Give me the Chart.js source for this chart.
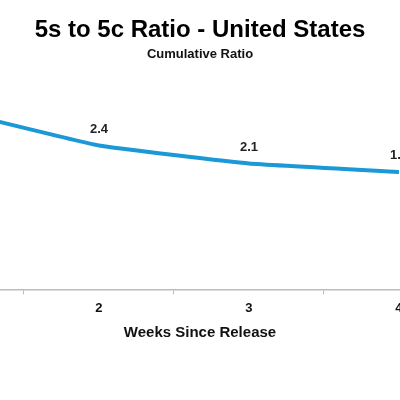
<!DOCTYPE html>
<html>
<head>
<meta charset="utf-8">
<script src="https://cdn.jsdelivr.net/npm/chart.js@4"></script>
<style>
  html, body { margin: 0; padding: 0; background: #fff; }
  #wrap { width: 400px; height: 400px; }
</style>
</head>
<body>
<div id="wrap"><canvas id="chart"></canvas></div>
<script>
// Data
const weeks = [1, 2, 3, 4];
const ratios = [3.0, 2.4, 2.1, 1.96];
const ratioLabels = ["3.0", "2.4", "2.1", "1.9"];

const FONT = "Arial, 'Liberation Sans', sans-serif";

// value labels above points
const pointLabels = {
  id: "pointLabels",
  afterDatasetsDraw(chart) {
    const ctx = chart.ctx;
    const meta = chart.getDatasetMeta(0);
    ctx.save();
    ctx.font = "bold 13px " + FONT;
    ctx.fillStyle = "#222";
    ctx.textAlign = "center";
    ctx.textBaseline = "bottom";
    meta.data.forEach((pt, i) => {
      ctx.fillText(ratioLabels[i], pt.x, pt.y - 10);
    });
    ctx.restore();
  }
};

new Chart(document.getElementById("chart"), {
  type: "line",
  data: {
    datasets: [{
      data: weeks.map((w, i) => ({ x: w, y: ratios[i] })),
      borderColor: "#1b98d8",
      borderWidth: 4,
      pointRadius: 0,
      tension: 0.1,
      clip: false
    }]
  },
  options: {
    responsive: true,
    maintainAspectRatio: false,
    animation: false,
    layout: { padding: { left: 0, right: 0, top: 0, bottom: 54 } },
    plugins: {
      legend: { display: false },
      tooltip: { enabled: false },
      title: {
        display: true,
        text: "5s to 5c Ratio - United States",
        color: "#000",
        font: { family: FONT, size: 24, weight: "bold" },
        padding: { top: 16, bottom: 2 }
      },
      subtitle: {
        display: true,
        text: "Cumulative Ratio",
        color: "#111",
        font: { family: FONT, size: 13, weight: "bold" },
        padding: { top: 0, bottom: 10 }
      }
    },
    scales: {
      x: {
        type: "linear",
        min: 1.34,
        max: 4.007,
        afterBuildTicks(scale) {
          scale.ticks = [1.5, 2, 2.5, 3, 3.5, 4].map(v => ({ value: v }));
        },
        afterFit(scale) {
          scale.paddingLeft = 0;
          scale.paddingRight = 0;
        },
        border: { display: true, color: "#bbb", width: 1.5 },
        grid: {
          drawOnChartArea: false,
          tickLength: 5,
          color: c => (c.tick && Number.isInteger(c.tick.value)) ? "rgba(0,0,0,0)" : "#bbb"
        },
        ticks: {
          color: "#111",
          padding: 6,
          maxRotation: 0,
          autoSkip: false,
          font: { family: FONT, size: 13, weight: "bold" },
          callback: v => Number.isInteger(v) ? String(v) : ""
        },
        title: {
          display: true,
          text: "Weeks Since Release",
          color: "#111",
          font: { family: FONT, size: 15, weight: "bold" },
          padding: { top: 2 }
        }
      },
      y: {
        display: false,
        min: 0,
        max: 3.62
      }
    }
  },
  plugins: [pointLabels]
});
</script>
</body>
</html>
